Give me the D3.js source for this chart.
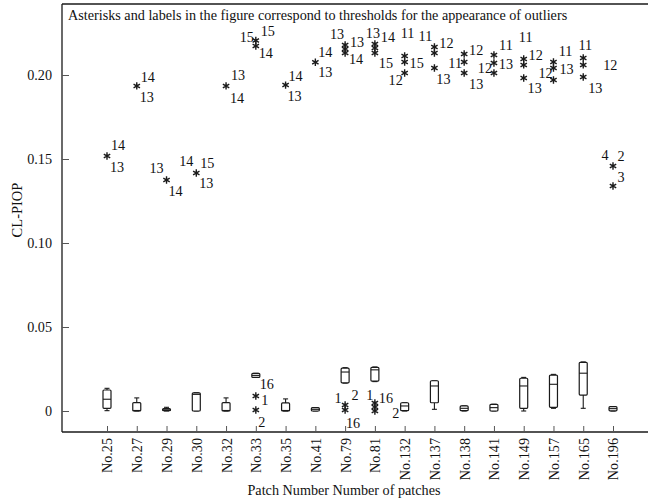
<!DOCTYPE html>
<html>
<head>
<meta charset="utf-8">
<script src="https://cdn.jsdelivr.net/npm/d3@7"></script>
<style>
  html, body { margin: 0; padding: 0; background: #fff; }
  svg { display: block; }
  text { font-family: "Liberation Serif", "Times New Roman", serif; fill: #111; }
</style>
</head>
<body>
<svg id="chart" width="648" height="504"></svg>
<script>
// ---------------- DATA ----------------
const categories = ["No.25","No.27","No.29","No.30","No.32","No.33","No.35","No.41","No.79",
  "No.81","No.132","No.137","No.138","No.141","No.149","No.157","No.165","No.196"];
const boxMin    = [0.0002,0,0,0,0,0.0200,0,0,0.0166,0.0175,0,0.0010,0,0,0,0.0016,0.0016,0];
const boxQ1     = [0.0016,0,0.0002,0,0,0.0200,0,0,0.0168,0.0178,0.0002,0.0049,0.0002,0,0.0016,0.0022,0.0095,0.0001];
const boxMedian = [0.0070,0.0003,0.0007,0.0099,0.0003,0.0212,0.0003,0.0010,0.0232,0.0245,0.0030,0.0149,0.0016,0.0020,0.0149,0.0159,0.0225,0.0014];
const boxQ3     = [0.0125,0.0050,0.0014,0.0108,0.0050,0.0224,0.0048,0.0020,0.0255,0.0260,0.0049,0.0180,0.0030,0.0040,0.0195,0.0214,0.0290,0.0026];
const boxMax    = [0.0135,0.0078,0.0022,0.0110,0.0078,0.0224,0.0072,0.0020,0.0258,0.0262,0.0050,0.0180,0.0030,0.0040,0.0200,0.0218,0.0292,0.0026];

// outlier asterisks
const outlierCat = ["No.25","No.27","No.29","No.30","No.32","No.33","No.33","No.35","No.41",
  "No.79","No.79","No.79","No.81","No.81","No.81","No.132","No.132","No.132",
  "No.137","No.137","No.137","No.138","No.138","No.138","No.141","No.141","No.141",
  "No.149","No.149","No.149","No.157","No.157","No.157","No.165","No.165","No.165",
  "No.196","No.196","No.33","No.33","No.79","No.79","No.81","No.81","No.81"];
const outlierValue = [0.1518,0.1935,0.1375,0.1417,0.1935,0.2205,0.2173,0.1940,0.2076,
  0.2179,0.2155,0.2131,0.2185,0.2161,0.2131,0.2113,0.2077,0.2012,
  0.2167,0.2131,0.2042,0.2125,0.2077,0.2012,0.2119,0.2071,0.2012,
  0.2095,0.2060,0.1982,0.2077,0.2042,0.1970,0.2101,0.2060,0.1988,
  0.1458,0.1339,0.0089,0.0006,0.0036,0.0006,0.0048,0.0024,0.0000];

// outlier labels: category, value of the asterisk they refer to, text
const labelCat = ["No.25","No.25","No.27","No.27","No.29","No.29","No.30","No.30","No.30",
  "No.32","No.32","No.33","No.33","No.33","No.35","No.35","No.41","No.41",
  "No.79","No.79","No.79","No.81","No.81","No.81","No.132","No.132","No.132",
  "No.137","No.137","No.137","No.138","No.138","No.138","No.141","No.141","No.141",
  "No.149","No.149","No.149","No.157","No.157","No.157","No.165","No.165","No.165",
  "No.196","No.196","No.196","No.33","No.33","No.33","No.79","No.79","No.79","No.81","No.81","No.81"];
const labelValue = [0.1518,0.1518,0.1935,0.1935,0.1375,0.1375,0.1417,0.1417,0.1417,
  0.1935,0.1935,0.2205,0.2205,0.2173,0.1940,0.1940,0.2076,0.2076,
  0.2179,0.2179,0.2131,0.2185,0.2185,0.2131,0.2113,0.2077,0.2012,
  0.2167,0.2167,0.2042,0.2125,0.2077,0.2012,0.2119,0.2071,0.2071,
  0.2095,0.2095,0.1982,0.2077,0.2042,0.2042,0.2101,0.1988,0.2060,
  0.1458,0.1458,0.1339,0.0200,0.0089,0.0006,0.0036,0.0036,0.0006,0.0048,0.0048,0.0000];
const labelText = ["14","13","14","13","13","14","14","15","13",
  "13","14","15","15","14","14","13","14","13",
  "13","13","14","13","14","15","11","15","12",
  "11","12","13","12","11","13","11","13","12",
  "11","12","13","11","13","12","11","13","12",
  "4","2","3","16","1","2","1","2","16","1","16","2"];

const yTicks = [0, 0.05, 0.10, 0.15, 0.20];
const yTickLabels = ["0", "0.05", "0.10", "0.15", "0.20"];
const titleText = "Asterisks and labels in the figure correspond to thresholds for the appearance of outliers";
const yTitle = "CL-PIOP";
const xTitle = "Patch Number Number of patches";

// ---------------- LAYOUT (label offsets in px, same order as labels) ----------------
const labelOffset = [[11,-11],[10,11],[11,-9],[10,11],[-10,-12],[9,11],[-10,-12],[11,-10],[10,10],
  [12,-11],[11,12],[-9,-3.5],[12,-9.5],[10,7],[10,-9],[9,11],[10,-10],[10,10],
  [-8,-11],[12,-3],[11,6],[-2,-11],[13,-7],[11,10],[3,-23],[12,1],[-9,7],
  [-9,-11],[12,-4],[9,11],[12,-4],[-9,1],[12,11],[12,-10],[12,1],[-9,5],
  [2,-22],[12,-4],[11,10],[12,-11],[13,1],[-8,5],[2,-13],[12,11],[27,0],
  [-8,-11],[8,-10],[8,-9],[11,7],[9,4],[6,12],[-7,-7],[10,-10],[8,13],[-5,-8],[11,-5],[21,2]];

const FS = "14.2px";
const axL = 62, axB = 432, axT = 4, axR = 648;

const svg = d3.select("#chart");

const x = d3.scalePoint().domain(categories).range([107, 613]);
const y = d3.scaleLinear().domain([0, 0.2]).range([411, 75]);

const ink = "#1a1a1a";

// frame
svg.append("line").attr("x1", axL).attr("x2", axL).attr("y1", axT).attr("y2", axB)
  .attr("stroke", ink).attr("stroke-width", 1.3);
svg.append("line").attr("x1", axL).attr("x2", axR).attr("y1", axB).attr("y2", axB)
  .attr("stroke", ink).attr("stroke-width", 1.3);
svg.append("line").attr("x1", axL).attr("x2", axR).attr("y1", axT).attr("y2", axT)
  .attr("stroke", ink).attr("stroke-width", 1.3);

// y axis (ticks inward)
const yAxis = d3.axisLeft(y).tickValues(yTicks).tickSize(-7)
  .tickFormat((d, i) => yTickLabels[i]).tickPadding(10);
const gy = svg.append("g").attr("transform", `translate(${axL},0)`).call(yAxis);
gy.select(".domain").remove();
gy.selectAll(".tick line").attr("stroke", "#555").attr("stroke-width", 1);
gy.selectAll(".tick text").style("font-family", "Liberation Serif, serif")
  .style("font-size", FS).attr("fill", ink);

// x axis (ticks inward)
const xAxis = d3.axisBottom(x).tickSize(-6).tickPadding(4);
const gx = svg.append("g").attr("transform", `translate(0,${axB})`).call(xAxis);
gx.select(".domain").remove();
gx.selectAll(".tick line").attr("stroke", "#555").attr("stroke-width", 1);
gx.selectAll(".tick text")
  .style("font-family", "Liberation Serif, serif").style("font-size", FS).attr("fill", ink)
  .attr("text-anchor", "end")
  .attr("transform", "rotate(-90)")
  .attr("x", -6).attr("y", 0).attr("dy", "0.35em");

// boxes
const bw = 8, cw = 5;
const boxes = svg.append("g");
categories.forEach((c, i) => {
  const cx = x(c);
  const g = boxes.append("g");
  g.append("line").attr("x1", cx).attr("x2", cx).attr("y1", y(boxMax[i])).attr("y2", y(boxQ3[i]))
    .attr("stroke", ink).attr("stroke-width", 1.1);
  g.append("line").attr("x1", cx).attr("x2", cx).attr("y1", y(boxQ1[i])).attr("y2", y(boxMin[i]))
    .attr("stroke", ink).attr("stroke-width", 1.1);
  g.append("line").attr("x1", cx - cw/2).attr("x2", cx + cw/2).attr("y1", y(boxMax[i])).attr("y2", y(boxMax[i]))
    .attr("stroke", ink).attr("stroke-width", 1.1);
  g.append("line").attr("x1", cx - cw/2).attr("x2", cx + cw/2).attr("y1", y(boxMin[i])).attr("y2", y(boxMin[i]))
    .attr("stroke", ink).attr("stroke-width", 1.1);
  g.append("rect").attr("x", cx - bw/2).attr("width", bw)
    .attr("y", y(boxQ3[i])).attr("height", Math.max(0.5, y(boxQ1[i]) - y(boxQ3[i])))
    .attr("rx", 1).attr("fill", "#fff").attr("stroke", ink).attr("stroke-width", 1.2);
  g.append("line").attr("x1", cx - bw/2).attr("x2", cx + bw/2)
    .attr("y1", y(boxMedian[i])).attr("y2", y(boxMedian[i]))
    .attr("stroke", ink).attr("stroke-width", 1.1);
});

// asterisks
const star = d3.symbol().type(d3.symbolAsterisk).size(38);
svg.append("g").selectAll("path").data(outlierCat).join("path")
  .attr("d", star)
  .attr("transform", (c, i) => `translate(${x(c)},${y(outlierValue[i])})`)
  .attr("fill", "none").attr("stroke", ink).attr("stroke-width", 1.4);

// labels
svg.append("g").selectAll("text").data(labelCat).join("text")
  .attr("x", (c, i) => x(c) + labelOffset[i][0])
  .attr("y", (c, i) => y(labelValue[i]) + labelOffset[i][1])
  .attr("text-anchor", "middle").attr("dy", "0.35em")
  .style("font-size", FS)
  .text((c, i) => labelText[i]);

// title
svg.append("text").attr("x", 68).attr("y", 20).style("font-size", FS).text(titleText);

// axis titles
svg.append("text").attr("transform", `translate(22,210) rotate(-90)`)
  .attr("text-anchor", "middle").style("font-size", "14.5px").text(yTitle);
svg.append("text").attr("x", 344).attr("y", 495)
  .attr("text-anchor", "middle").style("font-size", FS).text(xTitle);
</script>
</body>
</html>
